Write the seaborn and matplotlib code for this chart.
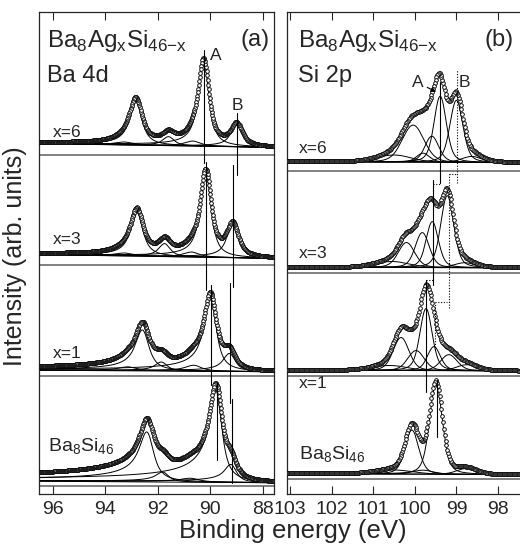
import numpy as np
import pandas as pd
import seaborn as sns
import matplotlib.pyplot as plt

# spectra from top to bottom
labels = ["x=6", "x=3", "x=1", r"Ba$_\mathregular{8}$Si$_\mathregular{46}$"]

# ---- Ba 4d (panel a) ----
ba_offset = [338, 228, 117, 7]
ba_bg = [(12, 7), (11, 6), (6, 4), (5, 3)]          # background at high / low BE end
ba_alpha = [0.05, 0.05, 0.12, 0.20]                 # Doniach-Sunjic asymmetry
# components: centre (eV), height, lorentz half width (eV)
ba_x6 = [(92.83, 44, 0.22), (91.58, 9, 0.20), (90.24, 84, 0.18), (88.98, 22, 0.20),
         (93.25, 3, 0.35), (90.65, 5, 0.30)]
ba_x3 = [(92.79, 44, 0.22), (91.73, 13, 0.20), (90.16, 84, 0.18), (89.13, 33, 0.20),
         (93.25, 3, 0.35), (90.70, 5, 0.30)]
ba_x1 = [(92.56, 41, 0.24), (91.84, 9, 0.20), (89.97, 74, 0.20), (89.24, 18, 0.20),
         (93.10, 4, 0.35), (90.60, 6, 0.30)]
ba_ba = [(92.37, 50, 0.24), (91.77, 10, 0.20), (89.74, 92, 0.20), (89.17, 18, 0.18),
         (90.70, 4, 0.35)]
ba_comps = [ba_x6, ba_x3, ba_x1, ba_ba]
# peak position markers: energy, top, bottom
ba_mark_A = [(90.24, 443, 330), (90.16, 331, 203), (89.97, 208, 108), (89.74, 111, 33)]
ba_mark_B = [(88.98, 380, 318), (89.13, 328, 206), (89.24, 210, 90), (89.17, 94, 10)]

# ---- Si 2p (panel b) ----
si_offset = [322, 220, 117, 14]
si_bg = [(10, 8), (6, 5), (6, 5), (6, 4)]
# components: centre (eV), height, gaussian fwhm (eV)
si_x6 = [(100.04, 37, 0.55), (99.59, 26, 0.33), (99.39, 66, 0.28), (99.00, 62, 0.30),
         (99.80, 9, 0.30), (100.50, 7, 0.90), (98.63, 6, 0.50)]
si_x3 = [(100.20, 25, 0.40), (99.82, 35, 0.33), (99.58, 46, 0.28), (99.22, 72, 0.30),
         (100.55, 6, 0.90), (98.80, 5, 0.50)]
si_x1 = [(100.33, 33, 0.38), (99.97, 20, 0.40), (99.73, 62, 0.28), (99.54, 24, 0.30),
         (99.18, 16, 0.40), (98.75, 6, 0.50), (100.60, 5, 0.90)]
si_ba = [(99.49, 90, 0.30), (100.07, 44, 0.32), (99.80, 4, 0.50), (98.75, 6, 0.50),
         (100.50, 4, 1.00)]
si_comps = [si_x6, si_x3, si_x1, si_ba]
si_mark_A = [(99.39, 411, 310), (99.56, 313, 208), (99.73, 213, 101), (99.47, 113, 56)]
si_link_A = [(99.56, 99.39, 309), (99.73, 99.54, 213)]
si_mark_B = [(98.99, 423, 310), (99.18, 319, 185), (99.51, 191, 143)]
si_link_B = [(99.18, 98.99, 319), (99.51, 99.22, 191)]

STEP = 0.005


def line_shape(e, pos, gamma, sigma, alpha):
    # Doniach-Sunjic line convolved with a gaussian, scaled to unit height
    eps = pos - e
    ds = np.cos(np.pi * alpha / 2 + (1 - alpha) * np.arctan(eps / gamma)) / \
        (eps ** 2 + gamma ** 2) ** ((1 - alpha) / 2)
    n = int(4 * sigma / STEP)
    k = np.arange(-n, n + 1) * STEP
    g = np.exp(-k ** 2 / (2 * sigma ** 2))
    y = np.convolve(ds, g / g.sum(), mode="same")
    return y / y.max()


def build(e, offsets, bgs, comps, alphas, kind):
    lines, points = [], []
    for i, (off, (b_hi, b_lo), cl) in enumerate(zip(offsets, bgs, comps)):
        bg = b_lo + (b_hi - b_lo) * (e - e.min()) / (e.max() - e.min())
        total = off + bg
        lines.append(pd.DataFrame({"E": e, "I": np.full_like(e, off), "curve": f"{i}z"}))
        lines.append(pd.DataFrame({"E": e, "I": off + bg, "curve": f"{i}b"}))
        for j, (pos, h, w) in enumerate(cl):
            if kind == "ba":
                prof = h * line_shape(e, pos, w, 0.10, alphas[i])
            else:
                prof = h * line_shape(e, pos, 0.06, w / 2.355, 0.0)
            total = total + prof
            lines.append(pd.DataFrame({"E": e, "I": off + bg + prof, "curve": f"{i}c{j}"}))
        points.append(pd.DataFrame({"E": e[::4], "I": total[::4]}))
    return pd.concat(lines), pd.concat(points)


sns.set_style("ticks")
plt.rcParams["font.family"] = ["Liberation Sans", "DejaVu Sans"]

fig = plt.figure(figsize=(5.2, 5.44), dpi=100)
ax_a = fig.add_axes([39 / 520, 50 / 544, 235 / 520, 482 / 544])
ax_b = fig.add_axes([287 / 520, 50 / 544, 234 / 520, 482 / 544])

e_a = np.arange(86.0, 98.0, STEP)
e_b = np.arange(96.5, 104.5, STEP)
lines_a, pts_a = build(e_a, ba_offset, ba_bg, ba_comps, ba_alpha, "ba")
lines_b, pts_b = build(e_b, si_offset, si_bg, si_comps, None, "si")

for ax, lines, pts in [(ax_a, lines_a, pts_a), (ax_b, lines_b, pts_b)]:
    sns.lineplot(data=lines, x="E", y="I", units="curve", estimator=None, sort=False,
                 color="black", lw=0.7, ax=ax, zorder=2)
    sns.scatterplot(data=pts, x="E", y="I", marker="o", s=7, facecolor="white",
                    edgecolor="black", linewidth=0.65, ax=ax, zorder=3)

# peak markers
for pos, top, bot in ba_mark_A + ba_mark_B:
    ax_a.plot([pos, pos], [bot, top], color="black", lw=0.8, zorder=4)
for pos, top, bot in si_mark_A:
    ax_b.plot([pos, pos], [bot, top], color="black", lw=0.8, zorder=4)
for pos, top, bot in si_mark_B:
    ax_b.plot([pos, pos], [bot, top], color="black", lw=0.8, ls=(0, (1, 1.5)), zorder=4)
for e1, e2, y in si_link_A + si_link_B:
    ax_b.plot([e1, e2], [y, y], color="black", lw=0.8, ls=(0, (1, 1.5)), zorder=4)

ax_a.set_xlim(96.534, 87.565)
ax_b.set_xlim(103.072, 97.447)
for ax, step in [(ax_a, 2), (ax_b, 1)]:
    ax.set_ylim(-1, 481)
    ax.set_yticks([])
    ax.xaxis.set_major_locator(plt.MultipleLocator(step))
    ax.tick_params(axis="x", direction="in", top=True, length=6, width=0.8,
                   labelsize=14, pad=5)
    ax.set_xlabel("")
    ax.set_ylabel("")
    for s in ax.spines.values():
        s.set_linewidth(0.9)
ax_b.spines["right"].set_visible(False)

title = r"Ba$_\mathregular{8}$Ag$_\mathregular{x}$Si$_\mathregular{46{-}x}$"
ax_a.text(0.034, 0.927, title, transform=ax_a.transAxes, fontsize=17.5, va="baseline")
ax_a.text(0.034, 0.855, "Ba 4d", transform=ax_a.transAxes, fontsize=17, va="baseline")
ax_a.text(0.983, 0.93, "(a)", transform=ax_a.transAxes, fontsize=17, va="baseline", ha="right")
ax_b.text(0.047, 0.927, title, transform=ax_b.transAxes, fontsize=17.5, va="baseline")
ax_b.text(0.047, 0.855, "Si 2p", transform=ax_b.transAxes, fontsize=17, va="baseline")
ax_b.text(0.97, 0.93, "(b)", transform=ax_b.transAxes, fontsize=17, va="baseline", ha="right")

ax_a.text(89.78, 433, "A", fontsize=12.5, ha="center", va="baseline")
ax_a.text(88.96, 383, "B", fontsize=12.5, ha="center", va="baseline")
ax_b.annotate("A", xy=(99.49, 401), xytext=(99.92, 406), fontsize=12.5, ha="center",
              va="baseline", arrowprops=dict(arrowstyle="-|>", lw=0.8, color="black",
                                             mutation_scale=7, shrinkA=0, shrinkB=0))
ax_b.text(98.82, 406, "B", fontsize=12.5, ha="center", va="baseline")

ba_lab_y = [356, 249, 135, 41]
si_lab_y = [340, 235, 105, 33]
for lab, ya, yb in zip(labels, ba_lab_y, si_lab_y):
    big = lab.startswith("Ba")
    ax_a.text(96.0 if not big else 96.19, ya, lab, fontsize=14 if big else 12.5, va="baseline")
    ax_b.text(102.78, yb, lab, fontsize=14 if big else 12.5, va="baseline")

fig.text(15 / 520, 1 - 256 / 544, "Intensity (arb. units)", rotation=90, fontsize=18,
         ha="center", va="center")
fig.text(293 / 520, 1 - 538 / 544, "Binding energy (eV)", fontsize=18.5, ha="center",
         va="baseline")

fig.savefig("out.png", dpi=100)
